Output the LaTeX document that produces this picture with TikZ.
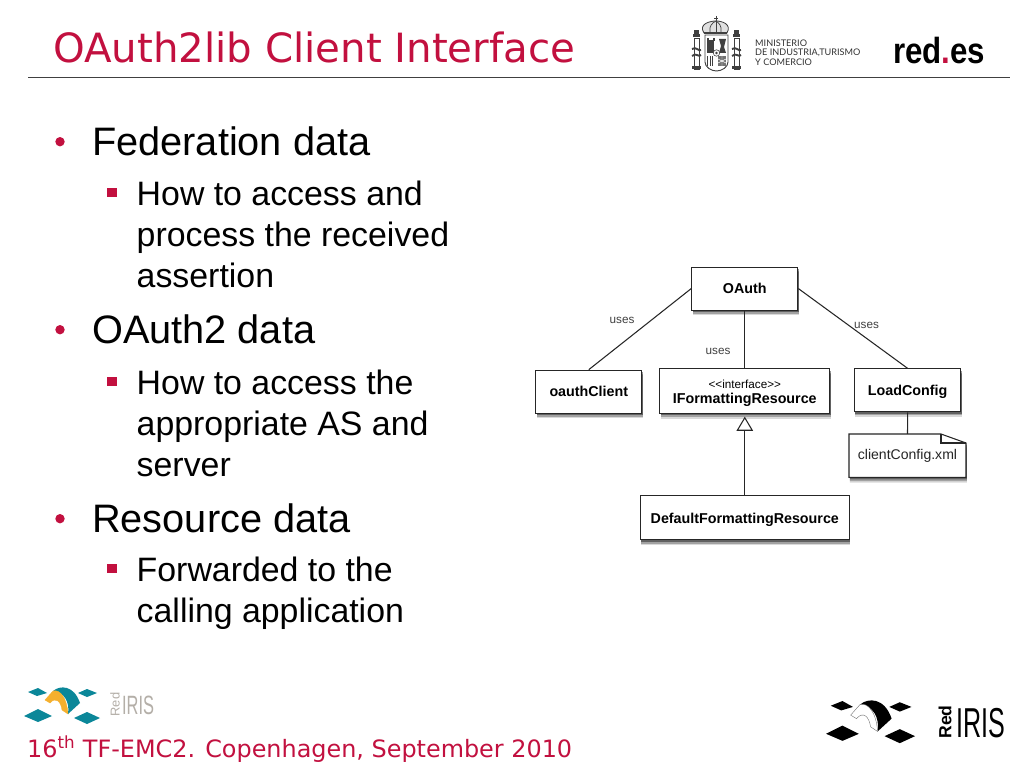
\documentclass[tikz,border=0pt]{standalone}
\usepackage{fontspec}
\setmainfont{Liberation Sans}
\newfontfamily\titlefont{DejaVu Sans}
\newfontfamily\ministryfont{Lato}
\usepackage{xcolor}
\usetikzlibrary{positioning,arrows.meta,calc,shadows}
\definecolor{slidered}{HTML}{C2103F}
\definecolor{irisblue}{HTML}{0B8799}
\definecolor{irisgold}{HTML}{F5B02E}
\definecolor{irisgrey}{HTML}{B4AFA8}
\tikzset{
  softshadow/.style={
    drop shadow={shadow xshift=0.8pt,shadow yshift=-4.5pt,opacity=0.15,fill=black},
    drop shadow={shadow xshift=0.8pt,shadow yshift=-3.2pt,opacity=0.25,fill=black},
    drop shadow={shadow xshift=0.8pt,shadow yshift=-1.8pt,opacity=0.4,fill=black}},
  umlbox/.style={draw=black!85,line width=0.9pt,fill=white,align=center,inner sep=0pt,
    font=\fontsize{12.2}{13.4}\selectfont\bfseries,softshadow},
  usesline/.style={draw=black!85,line width=0.9pt},
  useslabel/.style={font=\fontsize{10}{12}\selectfont,text=black!75,inner sep=0pt},
  itemone/.style={anchor=base west,inner sep=0pt,font=\fontsize{33.9}{36}\selectfont},
  itemtwo/.style={anchor=base west,inner sep=0pt,font=\fontsize{28.9}{30}\selectfont},
  dotbullet/.style={circle,fill=slidered,inner sep=0pt,minimum size=8pt},
  squarebullet/.style={rectangle,fill=slidered,inner sep=0pt,minimum size=8.5pt},
}
% arch and four diamonds, drawn in the coordinates of the lower left logo
\newcommand{\irislogo}[3]{%
  \fill[#1] (28,22) -- (38,18) -- (47,23) -- (37,26) -- cycle;
  \fill[#1] (78,23) -- (87,19) -- (97,23) -- (87,27) -- cycle;
  \fill[#1] (24,46) -- (38,39) -- (52,46) -- (38,52) -- cycle;
  \fill[#1] (74,48) -- (87,42) -- (100,48) -- (87,54) -- cycle;
  \fill[#1] (53,21) .. controls (60,15) and (74,15) .. (80,33) -- (68,44) .. controls (70,32) and (64,22) .. cycle;
  \filldraw[fill=#2,draw=#3,line width=0.3pt] (45,30) -- (53,21) .. controls (60,19) and (67,28) .. (68,44)
    -- (62,40) .. controls (61,32) and (56,26) .. (50,33) -- cycle;
}
\begin{document}
\begin{tikzpicture}[x=0.03cm,y=-0.03cm]
  \useasboundingbox[fill=white] (0,0) rectangle (1024,768);

  % header
  \node[anchor=base west,inner sep=0pt,text=slidered,font=\fontsize{34.4}{36}\selectfont\titlefont] (title) at (53,63) {OAuth2lib Client Interface};
  \draw[black!75,line width=0.8pt] (28,77) -- (1010,77);

  % crest
  \begin{scope}[black!75]
    \draw[line width=0.7pt,fill=black!12] (704,33) .. controls (698,24) and (710,21) .. (716,21) .. controls (722,21) and (732,24) .. (727,33) -- cycle;
    \draw[line width=0.6pt] (710,32) .. controls (709,26) and (712,23) .. (716,21) .. controls (719,23) and (722,26) .. (721,32);
    \draw[line width=0.6pt] (716,16) -- (716,33) (714,18) -- (718,18);
    \fill (704,32) rectangle (727,34.5);
    \foreach \px in {693,733} {
      \fill (\px,34) rectangle +(7,3.5);
      \fill (\px+1,30) rectangle +(5,4);
      \draw[line width=0.6pt,fill=white] (\px+1,38) rectangle +(5,31);
      \fill (\px-1,66) rectangle +(9,3);
      \draw[line width=1.6pt] (\px-1,49) .. controls (\px+3,46) and (\px+6,52) .. (\px+8,50);
      \draw[line width=1.6pt] (\px-1,56) .. controls (\px+3,52) and (\px+6,58) .. (\px+8,55);
    }
    \draw[line width=0.8pt,fill=white] (705,35) -- (728,35) -- (728,62) .. controls (728,67) and (722,71) .. (716.5,71) .. controls (711,71) and (705,67) .. (705,62) -- cycle;
    \fill (707,40) rectangle (714,53);
    \fill (706.5,38.5) rectangle (708.5,41);
    \fill (712.5,38.5) rectangle (714.5,41);
    \fill (719,39) -- (726,39) -- (724,47) -- (726,53) -- (719,53) -- (721,46) -- cycle;
    \foreach \px in {707,709.5,712} {
      \fill (\px,56) rectangle +(1.4,10);
    }
    \fill[black!55] (718,56) rectangle (726,66);
    \draw[white,line width=0.4pt] (718,59) -- (726,63) (718,63) -- (726,59) (722,56) -- (722,66);
    \draw[line width=0.5pt,fill=white] (716.5,53) circle (3.2);
    \fill (716.5,53) circle (1.3);
  \end{scope}
  \node[anchor=west,inner sep=0pt,align=left,text=black!80,font=\fontsize{7.8}{8.3}\selectfont\ministryfont] (ministry) at (755,52.5) {MINISTERIO\\DE INDUSTRIA,TURISMO\\Y COMERCIO};
  \node[anchor=base west,inner sep=0pt,xscale=0.86,font=\fontsize{31}{32}\selectfont\bfseries] (redes) at (893,63.5) {red\textcolor{slidered}{.}es};

  % bullets
  \foreach \ypos/\lbl [count=\i] in
    {156/{Federation data},
     344/{OAuth2 data},
     533/{Resource data}} {
    \node[itemone] (head\i) at (92,\ypos) {\lbl};
    \node[dotbullet] (dot\i) at ($(head\i.base west)+(-32,-14.3)$) {};
  }
  \foreach \ypos/\lbl [count=\i] in
    {206/{How to access and},
     395/{How to access the},
     582/{Forwarded to the}} {
    \node[itemtwo] (sub\i) at (136.5,\ypos) {\lbl};
    \node[squarebullet] (square\i) at ($(sub\i.base west)+(-24.8,-13.5)$) {};
  }
  \foreach \ypos/\lbl [count=\i] in
    {247/{process the received},
     288/{assertion},
     436/{appropriate AS and},
     477/{server},
     623/{calling application}} {
    \node[itemtwo] (more\i) at (136.5,\ypos) {\lbl};
  }

  % class diagram
  \node[umlbox,minimum width=90.6pt,minimum height=36.6pt] (oauth) at (744.8,288.6) {OAuth};
  \node[umlbox,minimum width=90.6pt,minimum height=36.6pt] (oauthclient) at (588.8,391.6) {oauthClient};
  \node[umlbox,minimum width=145.2pt,minimum height=37.8pt] (iformat) at (744.8,391.1) {\rule{0pt}{11pt}{\fontsize{10}{13.4}\selectfont\mdseries {<}{<}interface{>}{>}}\\IFormattingResource};
  \node[umlbox,minimum width=90.6pt,minimum height=36.6pt,text height=11.5pt] (loadconfig) at (907.6,390.3) {LoadConfig};
  \node[umlbox,minimum width=178.4pt,minimum height=37.8pt,text height=11.5pt] (defaultres) at (744.8,517.8) {DefaultFormattingResource};

  \filldraw[draw=black!85,line width=0.9pt,fill=white,softshadow]
    (849,434) -- (941,434) -- (966,443) -- (966,477.3) -- (849,477.3) -- cycle;
  \draw[black!85,line width=0.9pt] (941,434) -- (941,443) -- (966,443);
  \node[inner sep=0pt,minimum width=99.9pt,minimum height=37pt,font=\fontsize{12}{14}\selectfont,text=black!85] (config) at (907.5,455.7) {clientConfig.xml};

  \draw[usesline] (oauth.west) -- (oauthclient.north);
  \draw[usesline] (oauth.south) -- (iformat.north);
  \draw[usesline] (oauth.east) -- (loadconfig.north);
  \draw[usesline] (loadconfig.south) -- (config.north);
  \draw[usesline,-{Triangle[open,fill=white,length=12pt,width=14pt]},shorten >=2.5pt] (defaultres.north) -- (iformat.south);

  \node[useslabel] (usesclient) at (622,320) {uses};
  \node[useslabel] (usesformat) at (718,351) {uses};
  \node[useslabel] (usesconfig) at (866.5,325) {uses};

  % footer logos
  \begin{scope}[shift={(0,670)}]
    \irislogo{irisblue}{irisgold}{irisgold}
  \end{scope}
  \node[inner sep=0pt,rotate=90,text=irisgrey,font=\fontsize{11}{12}\selectfont] (redleft) at (115,704.5) {Red};
  \node[anchor=base west,inner sep=0pt,xscale=0.62,text=irisgrey,font=\fontsize{22.6}{24}\selectfont] (irisleft) at (122,714) {IRIS};
  \begin{scope}[shift={(798,680)},scale=1.17]
    \irislogo{black}{white}{black!60}
  \end{scope}
  \node[inner sep=0pt,rotate=90,font=\fontsize{15}{16}\selectfont\bfseries] (redright) at (945,722) {Red};
  \node[anchor=base west,inner sep=0pt,xscale=0.6,font=\fontsize{35.7}{37}\selectfont] (irisright) at (956,737) {IRIS};
  \node[anchor=base west,inner sep=0pt,text=slidered,font=\fontsize{20.4}{22}\selectfont\titlefont] (footer) at (27,757) {16\textsuperscript{th} TF-EMC2. Copenhagen, September 2010};
\end{tikzpicture}
\end{document}
